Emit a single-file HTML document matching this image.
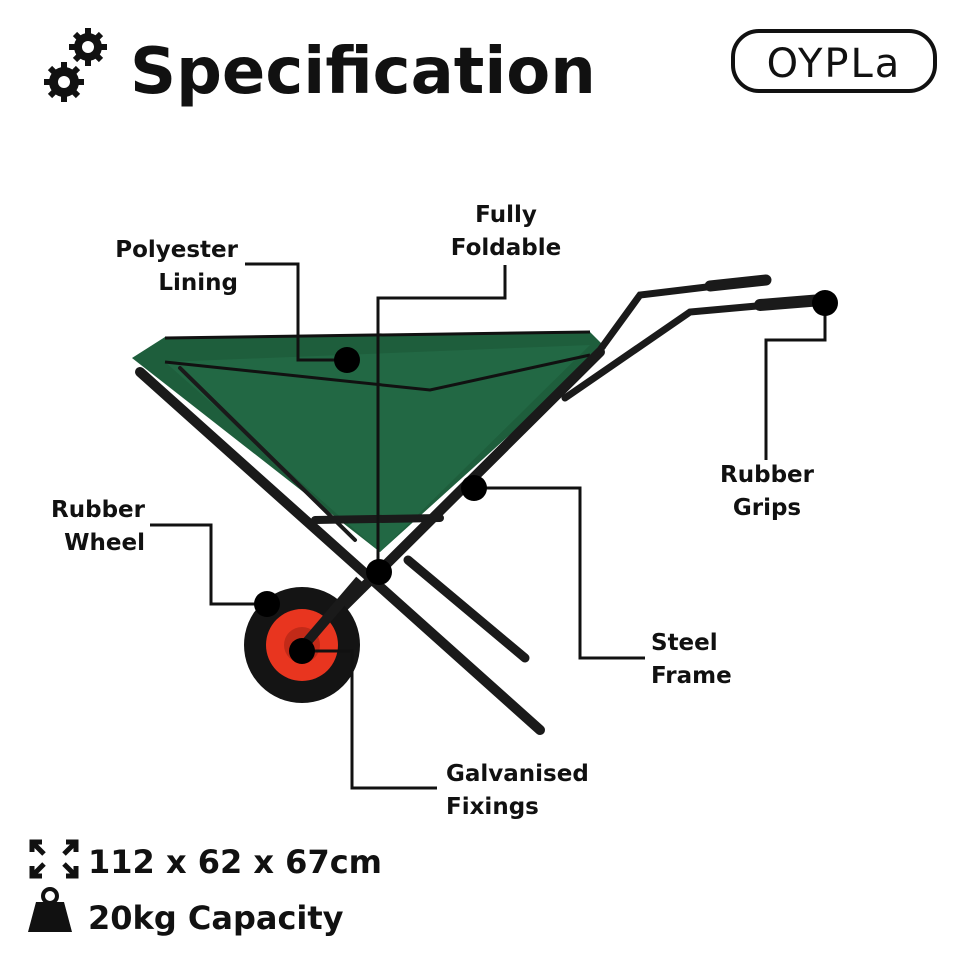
<!DOCTYPE html>
<html><head><style>
html,body{margin:0;padding:0;background:#fff;}
svg{display:block}
text{font-family:"DejaVu Sans","Liberation Sans",sans-serif;font-weight:bold;fill:#111;}
</style></head><body>
<svg width="960" height="960" viewBox="0 0 960 960" xmlns="http://www.w3.org/2000/svg">
<!-- gears -->
<g fill="#111">
<circle cx="88" cy="47" r="14"/><circle cx="88" cy="47" r="6" fill="#fff"/>
<g stroke="#111" stroke-width="6"><line x1="88" y1="28" x2="88" y2="66"/><line x1="69" y1="47" x2="107" y2="47"/><line x1="75" y1="34" x2="101" y2="60"/><line x1="101" y1="34" x2="75" y2="60"/></g>
<circle cx="88" cy="47" r="6" fill="#fff"/>
<circle cx="64" cy="82" r="15"/>
<g stroke="#111" stroke-width="6"><line x1="64" y1="62" x2="64" y2="102"/><line x1="44" y1="82" x2="84" y2="82"/><line x1="50" y1="68" x2="78" y2="96"/><line x1="78" y1="68" x2="50" y2="96"/></g>
<circle cx="64" cy="82" r="6" fill="#fff"/>
</g>
<text x="130" y="93" font-size="64" style="font-weight:bold">Specification</text>
<!-- logo -->
<rect x="733" y="31" width="202" height="60" rx="26" fill="none" stroke="#111" stroke-width="4"/>
<text x="834" y="77" font-size="40" text-anchor="middle" style="font-weight:normal" letter-spacing="2">OYPLa</text>

<!-- wheelbarrow -->
<polygon points="132,358 165,337 590,332 606,348 380,552" fill="#1e5e3c"/>
<polygon points="165,362 590,345 380,552" fill="#226844"/>
<polyline points="165,362 430,390 590,355" fill="none" stroke="#111" stroke-width="3"/>
<line x1="165" y1="338" x2="590" y2="332" stroke="#111" stroke-width="3"/>
<g stroke="#1a1a1a" stroke-linecap="round" fill="none">
<line x1="140" y1="372" x2="540" y2="730" stroke-width="10"/>
<line x1="600" y1="352" x2="300" y2="650" stroke-width="10"/>
<line x1="408" y1="560" x2="525" y2="658" stroke-width="9"/>
<line x1="180" y1="368" x2="355" y2="540" stroke-width="4"/>
<line x1="315" y1="520" x2="440" y2="518" stroke-width="8"/>
<polyline points="600,350 640,295 740,283" stroke-width="7"/>
<line x1="710" y1="286" x2="766" y2="280" stroke-width="11"/>
<polyline points="565,398 690,312 790,303" stroke-width="7"/>
<line x1="760" y1="305" x2="822" y2="300" stroke-width="12"/>
</g>
<circle cx="302" cy="645" r="58" fill="#141414"/>
<circle cx="302" cy="645" r="36" fill="#e8351f"/>
<circle cx="302" cy="645" r="18" fill="#c22a18"/>
<line x1="300" y1="650" x2="360" y2="580" stroke="#1a1a1a" stroke-width="10"/>

<!-- connectors -->
<g stroke="#111" stroke-width="3" fill="none">
<polyline points="245,264 298,264 298,360 347,360"/>
<polyline points="505,265 505,298 378,298 378,572"/>
<polyline points="825,303 825,340 766,340 766,460"/>
<polyline points="150,525 211,525 211,604 267,604"/>
<polyline points="474,488 580,488 580,658 645,658"/>
<polyline points="302,651 352,651 352,788 437,788"/>
</g>
<g fill="#000">
<circle cx="347" cy="360" r="13"/><circle cx="474" cy="488" r="13"/><circle cx="379" cy="572" r="13"/>
<circle cx="267" cy="604" r="13"/><circle cx="302" cy="651" r="13"/><circle cx="825" cy="303" r="13"/>
</g>
<g font-size="23">
<text x="238" y="257" text-anchor="end">Polyester</text>
<text x="238" y="290" text-anchor="end">Lining</text>
<text x="506" y="222" text-anchor="middle">Fully</text>
<text x="506" y="255" text-anchor="middle">Foldable</text>
<text x="767" y="482" text-anchor="middle">Rubber</text>
<text x="767" y="515" text-anchor="middle">Grips</text>
<text x="145" y="517" text-anchor="end">Rubber</text>
<text x="145" y="550" text-anchor="end">Wheel</text>
<text x="651" y="650">Steel</text>
<text x="651" y="683">Frame</text>
<text x="446" y="781">Galvanised</text>
<text x="446" y="814">Fixings</text>
</g>
<!-- bottom -->
<g stroke="#111" stroke-width="5" fill="none">
<polyline points="32,852 32,842 42,842"/><line x1="32" y1="842" x2="44" y2="854"/>
<polyline points="66,842 76,842 76,852"/><line x1="76" y1="842" x2="64" y2="854"/>
<polyline points="32,866 32,876 42,876"/><line x1="32" y1="876" x2="44" y2="864"/>
<polyline points="66,876 76,876 76,866"/><line x1="76" y1="876" x2="64" y2="864"/>
</g>
<text x="88" y="873" font-size="32">112 x 62 x 67cm</text>
<circle cx="50" cy="896" r="7" fill="none" stroke="#111" stroke-width="4"/>
<polygon points="36,902 64,902 72,932 28,932" fill="#111"/>
<text x="88" y="929" font-size="32">20kg Capacity</text>
</svg>
</body></html>
